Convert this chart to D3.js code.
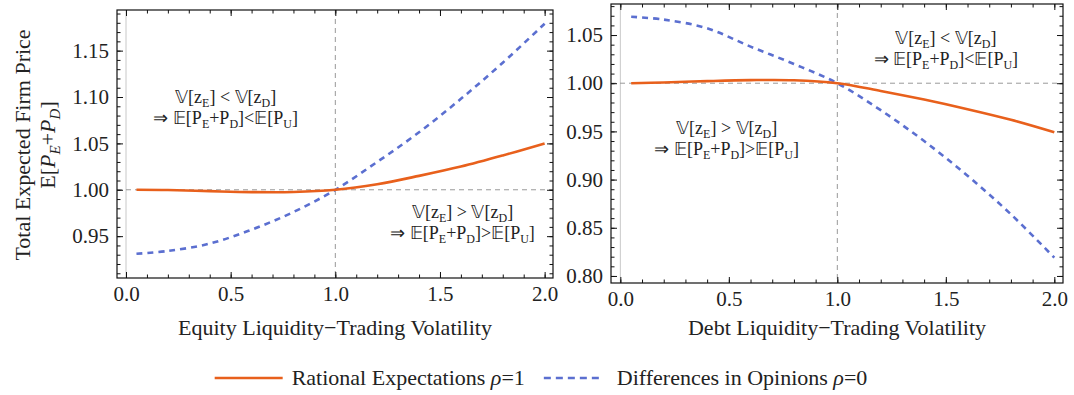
<!DOCTYPE html>
<html>
<head>
<meta charset="utf-8">
<script src="https://cdn.jsdelivr.net/npm/d3@7"></script>
<style>
  body { margin: 0; background: #fff; }
  svg text { font-family: "Liberation Serif", "Times New Roman", serif; fill: #222; }
</style>
</head>
<body>
<svg id="chart" width="1074" height="395"></svg>
<script>
// x positions of the sampled points (shared by every curve)
var xs = [0.05, 0.2, 0.4, 0.6, 0.8, 1.0, 1.2, 1.4, 1.6, 1.8, 2.0];

// equity panel
var equityRational = [1.000, 0.9997, 0.9985, 0.9975, 0.9976, 1.000, 1.006, 1.015, 1.025, 1.037, 1.050];
var equityOpinion  = [0.931, 0.934, 0.942, 0.957, 0.976, 1.000, 1.030, 1.062, 1.098, 1.137, 1.179];

// debt panel
var debtRational = [1.000, 1.0008, 1.0022, 1.0032, 1.0031, 1.000, 0.992, 0.983, 0.973, 0.962, 0.949];
var debtOpinion  = [1.069, 1.066, 1.057, 1.038, 1.020, 1.000, 0.972, 0.940, 0.904, 0.864, 0.819];

var xTicks = [0.0, 0.5, 1.0, 1.5, 2.0];
var equityYTicks = [0.95, 1.00, 1.05, 1.10, 1.15];
var debtYTicks = [0.80, 0.85, 0.90, 0.95, 1.00, 1.05];

var seriesNames = ["Rational Expectations", "Differences in Opinions"];
var rhoValues = ["1", "0"];

var orange = "#e8601c",
    blue = "#5b6fd0",
    dashes = "6,5",
    serif = "'Liberation Serif', 'Times New Roman', serif";

var svg = d3.select("#chart");

function drawPanel(cfg) {
  var x = d3.scaleLinear().domain([-0.043, 2.04]).range([cfg.left, cfg.right]),
      y = d3.scaleLinear().domain(cfg.yDomain).range([cfg.bottom, cfg.top]);

  var g = svg.append("g");

  // light axis line at x = 0
  g.append("line")
      .attr("x1", x(0)).attr("x2", x(0))
      .attr("y1", cfg.top).attr("y2", cfg.bottom)
      .attr("stroke", "#c8c8c8").attr("stroke-width", 1);

  // dashed reference lines
  g.append("line")
      .attr("x1", cfg.left).attr("x2", cfg.right)
      .attr("y1", y(1)).attr("y2", y(1))
      .attr("stroke", "#999").attr("stroke-dasharray", "5,4");
  g.append("line")
      .attr("x1", x(1)).attr("x2", x(1))
      .attr("y1", cfg.top).attr("y2", cfg.bottom)
      .attr("stroke", "#999").attr("stroke-dasharray", "5,4");

  // curves
  var line = d3.line()
      .x(function(d, i) { return x(xs[i]); })
      .y(function(d) { return y(d); })
      .curve(d3.curveCatmullRom.alpha(0.5));

  g.append("path").datum(cfg.opinion)
      .attr("d", line)
      .attr("fill", "none")
      .attr("stroke", blue).attr("stroke-width", 2.6)
      .attr("stroke-dasharray", dashes);

  g.append("path").datum(cfg.rational)
      .attr("d", line)
      .attr("fill", "none")
      .attr("stroke", orange).attr("stroke-width", 2.6);

  // frame with inward ticks on all four sides
  var minorX = d3.range(0, 2.0001, 0.1),
      minorY = d3.range(Math.ceil(cfg.yDomain[0] * 100), Math.floor(cfg.yDomain[1] * 100) + 1)
                 .map(function(d) { return d / 100; });

  var bottomAxis = d3.axisBottom(x).tickValues(xTicks).tickSize(-6).tickPadding(8)
      .tickFormat(d3.format(".1f"));
  var topAxis = d3.axisTop(x).tickValues(xTicks).tickSize(-6).tickFormat("");
  var leftAxis = d3.axisLeft(y).tickValues(cfg.yTicks).tickSize(-6).tickPadding(8)
      .tickFormat(d3.format(".2f"));
  var rightAxis = d3.axisRight(y).tickValues(cfg.yTicks).tickSize(-6).tickFormat("");

  var minorBottom = d3.axisBottom(x).tickValues(minorX).tickSize(-3.5).tickFormat("");
  var minorTop = d3.axisTop(x).tickValues(minorX).tickSize(-3.5).tickFormat("");
  var minorLeft = d3.axisLeft(y).tickValues(minorY).tickSize(-3.5).tickFormat("");
  var minorRight = d3.axisRight(y).tickValues(minorY).tickSize(-3.5).tickFormat("");

  [[minorBottom, "0," + cfg.bottom], [minorTop, "0," + cfg.top],
   [minorLeft, cfg.left + ",0"], [minorRight, cfg.right + ",0"],
   [bottomAxis, "0," + cfg.bottom], [topAxis, "0," + cfg.top],
   [leftAxis, cfg.left + ",0"], [rightAxis, cfg.right + ",0"]].forEach(function(a) {
    var ax = g.append("g")
        .attr("transform", "translate(" + a[1] + ")")
        .call(a[0]);
    ax.select(".domain").remove();
    ax.selectAll("line").attr("stroke", "#111");
    ax.selectAll("text")
        .style("font-family", serif)
        .style("font-size", "21px")
        .attr("fill", "#222");
  });

  g.append("rect")
      .attr("x", cfg.left).attr("y", cfg.top)
      .attr("width", cfg.right - cfg.left).attr("height", cfg.bottom - cfg.top)
      .attr("fill", "none").attr("stroke", "#111").attr("stroke-width", 1.2);

  // x label
  g.append("text")
      .attr("x", (cfg.left + cfg.right) / 2)
      .attr("y", 335)
      .attr("text-anchor", "middle")
      .attr("font-size", 22)
      .text(cfg.xLabel);

  // annotations
  cfg.notes.forEach(function(n) {
    var cx = x(n.x), cy = y(n.y) + 6;
    var t1 = g.append("text").attr("x", cx).attr("y", cy)
        .attr("text-anchor", "middle").attr("font-size", 18);
    t1.append("tspan").text("\ud835\udd4d[z");
    t1.append("tspan").attr("font-size", 12).attr("dy", 4).text("E");
    t1.append("tspan").attr("dy", -4).text("] " + n.sign + " \ud835\udd4d[z");
    t1.append("tspan").attr("font-size", 12).attr("dy", 4).text("D");
    t1.append("tspan").attr("dy", -4).text("]");

    var t2 = g.append("text").attr("x", cx).attr("y", cy + 21)
        .attr("text-anchor", "middle").attr("font-size", 18);
    t2.append("tspan").text("\u21d2 \ud835\udd3c[P");
    t2.append("tspan").attr("font-size", 12).attr("dy", 4).text("E");
    t2.append("tspan").attr("dy", -4).text("+P");
    t2.append("tspan").attr("font-size", 12).attr("dy", 4).text("D");
    t2.append("tspan").attr("dy", -4).text("]" + n.sign + "\ud835\udd3c[P");
    t2.append("tspan").attr("font-size", 12).attr("dy", 4).text("U");
    t2.append("tspan").attr("dy", -4).text("]");
  });
}

drawPanel({
  left: 117, right: 553, top: 10, bottom: 278,
  yDomain: [0.9049, 1.1938],
  yTicks: equityYTicks,
  rational: equityRational,
  opinion: equityOpinion,
  xLabel: "Equity Liquidity\u2212Trading Volatility",
  notes: [{x: 0.476, y: 1.0998, sign: "<"}, {x: 1.608, y: 0.9765, sign: ">"}]
});

drawPanel({
  left: 611, right: 1063, top: 4, bottom: 283,
  yDomain: [0.7927, 1.0822],
  yTicks: debtYTicks,
  rational: debtRational,
  opinion: debtOpinion,
  xLabel: "Debt Liquidity\u2212Trading Volatility",
  notes: [{x: 1.5, y: 1.047, sign: "<"}, {x: 0.49, y: 0.9537, sign: ">"}]
});

// y-axis title (two rotated lines)
var yt = svg.append("g").attr("transform", "translate(30,145) rotate(-90)");
yt.append("text").attr("text-anchor", "middle").attr("font-size", 22)
    .text("Total Expected Firm Price");
var yt2 = yt.append("text").attr("text-anchor", "middle").attr("y", 25).attr("font-size", 22);
yt2.append("tspan").text("E[");
yt2.append("tspan").attr("font-style", "italic").text("P");
yt2.append("tspan").attr("font-style", "italic").attr("font-size", 15).attr("dy", 5).text("E");
yt2.append("tspan").attr("dy", -5).text("+");
yt2.append("tspan").attr("font-style", "italic").text("P");
yt2.append("tspan").attr("font-style", "italic").attr("font-size", 15).attr("dy", 5).text("D");
yt2.append("tspan").attr("dy", -5).text("]");

// legend, centred under the whole figure
var legend = svg.append("g");
var cursor = 0;
seriesNames.forEach(function(name, i) {
  var len = i === 0 ? 68 : 57;
  legend.append("line")
      .attr("x1", cursor).attr("x2", cursor + len)
      .attr("y1", 0).attr("y2", 0)
      .attr("stroke", i === 0 ? orange : blue)
      .attr("stroke-width", 2.6)
      .attr("stroke-dasharray", i === 0 ? null : "7,5");
  cursor += len + (i === 0 ? 9 : 16);
  var t = legend.append("text")
      .attr("x", cursor).attr("y", 7)
      .attr("font-size", 22);
  t.append("tspan").text(name + " ");
  t.append("tspan").attr("font-style", "italic").text("\u03c1");
  t.append("tspan").text("=" + rhoValues[i]);
  cursor += t.node().getComputedTextLength() + 19;
});
cursor -= 19;
legend.attr("transform", "translate(" + (541 - cursor / 2) + ",378)");
</script>
</body>
</html>
